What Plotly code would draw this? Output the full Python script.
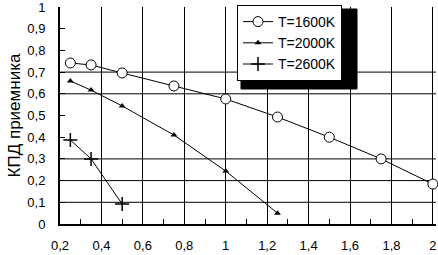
import plotly.graph_objects as go

x1600 = [0.25, 0.35, 0.5, 0.75, 1.0, 1.25, 1.5, 1.75, 2.0]
y1600 = [0.742, 0.733, 0.696, 0.636, 0.576, 0.493, 0.40, 0.30, 0.184]
x2000 = [0.25, 0.35, 0.5, 0.75, 1.0, 1.25]
y2000 = [0.659, 0.617, 0.544, 0.41, 0.244, 0.05]
x2600 = [0.25, 0.35, 0.5]
y2600 = [0.387, 0.30, 0.092]

xtick_vals = [0.2, 0.4, 0.6, 0.8, 1.0, 1.2, 1.4, 1.6, 1.8, 2.0]
xtick_text = ["0,2", "0,4", "0,6", "0,8", "1", "1,2", "1,4", "1,6", "1,8", "2"]
ytick_vals = [0, 0.1, 0.2, 0.3, 0.4, 0.5, 0.6, 0.7, 0.8, 0.9, 1.0]
ytick_text = ["0", "0,1", "0,2", "0,3", "0,4", "0,5", "0,6", "0,7", "0,8", "0,9", "1"]
hgrid = [0.1, 0.2, 0.3, 0.6, 0.7]

FONT = "Liberation Sans, Arial, sans-serif"

fig = go.Figure()
fig.add_trace(go.Scatter(
    x=x1600, y=y1600, mode="lines+markers", name="T=1600K", legendgroup="a",
    line=dict(color="black", width=1),
    marker=dict(symbol="circle", size=10, color="white", line=dict(color="black", width=1)),
    cliponaxis=False))
fig.add_trace(go.Scatter(
    x=x2000, y=y2000, mode="lines+markers", name="T=2000K", legendgroup="b",
    line=dict(color="black", width=1),
    marker=dict(symbol="triangle-up", size=6, color="black"),
    cliponaxis=False))
fig.add_trace(go.Scatter(
    x=x2600, y=y2600, mode="lines+markers", name="T=2600K", legendgroup="c",
    line=dict(color="black", width=1),
    marker=dict(symbol="cross-thin", size=10, color="black", line=dict(color="black", width=1.5)),
    cliponaxis=False))

for h in hgrid:
    fig.add_hline(y=h, line=dict(color="black", width=1), layer="below")

W, H = 438, 255
L, R, T, B = 60, 2, 7, 31
pw, ph = W - L - R, H - T - B


def px2paper(px, py):
    return (px - L) / pw, (H - B - py) / ph


x0, y0 = px2paper(241, 89)
x1, y1 = px2paper(357, 9)
fig.add_shape(type="rect", xref="paper", yref="paper", x0=x0, y0=y0, x1=x1, y1=y1,
              fillcolor="black", line=dict(color="black", width=1), layer="above")

lx, ly = px2paper(237, 5)
fig.update_layout(
    width=W, height=H, autosize=False,
    margin=dict(l=L, r=R, t=T, b=B),
    paper_bgcolor="white", plot_bgcolor="white",
    font=dict(family=FONT, size=13, color="black"),
    showlegend=True,
    legend=dict(x=lx, y=ly, xanchor="left", yanchor="top",
                bgcolor="white", bordercolor="black", borderwidth=1,
                font=dict(family=FONT, size=14, color="black"),
                tracegroupgap=0, itemwidth=30),
    xaxis=dict(range=[0.2, 2.015], tickvals=xtick_vals, ticktext=xtick_text,
               showgrid=True, gridcolor="black", gridwidth=1,
               showline=True, linecolor="black", linewidth=2,
               ticks="inside", ticklen=5, tickcolor="black", tickwidth=1,
               minor=dict(ticks="inside", dtick=0.1, tick0=0.2, ticklen=5, tickcolor="black", showgrid=False),
               ticklabelstandoff=8, zeroline=False, automargin=False,
               ticklabeloverflow="allow",
               tickfont=dict(family=FONT, size=13)),
    yaxis=dict(range=[0, 1.0], tickvals=ytick_vals, ticktext=ytick_text,
               showgrid=False,
               showline=True, linecolor="black", linewidth=2,
               ticks="inside", ticklen=5, tickcolor="black", tickwidth=1,
               ticklabelstandoff=10, zeroline=False, automargin=False,
               ticklabeloverflow="allow",
               tickfont=dict(family=FONT, size=13),
               title=dict(text="КПД приемника", font=dict(family=FONT, size=17), standoff=2)),
)

fig.write_html("out.html", config={"displayModeBar": False},
               post_script="document.body.style.margin='0';document.body.style.padding='0';")
